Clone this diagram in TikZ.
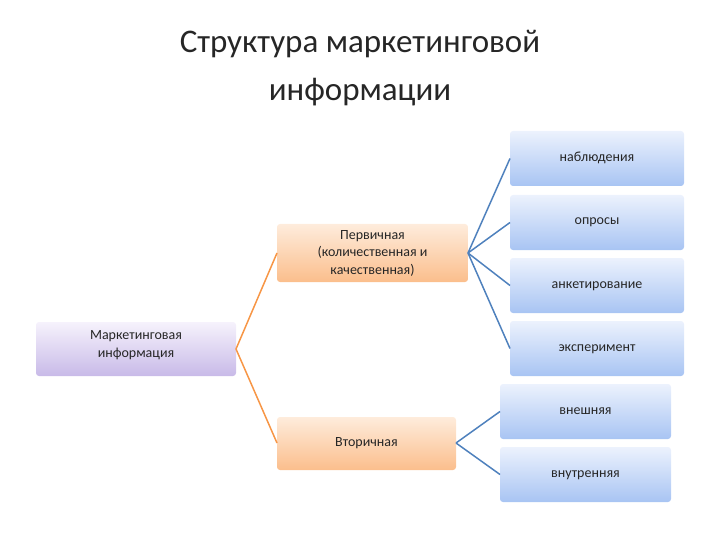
\documentclass[tikz,border=0pt]{standalone}
\usepackage{fontspec}
\setmainfont{Carlito}
\definecolor{lnB}{RGB}{79,129,189}
\definecolor{lnO}{RGB}{247,150,70}
\definecolor{bTop}{RGB}{236,242,253}
\definecolor{bBot}{RGB}{168,196,243}
\definecolor{oTop}{RGB}{254,236,220}
\definecolor{oBot}{RGB}{251,190,140}
\definecolor{pTop}{RGB}{246,242,252}
\definecolor{pBot}{RGB}{200,186,232}
\begin{document}
\begin{tikzpicture}[x=1pt,y=-1pt,
  box/.style={rounded corners=3pt,inner sep=0pt},
  purp/.style={box,top color=pTop,bottom color=pBot},
  oran/.style={box,top color=oTop,bottom color=oBot},
  blu/.style={box,top color=bTop,bottom color=bBot},
  oline/.style={draw=lnO,line width=1.5pt},
  bline/.style={draw=lnB,line width=1.5pt},
  txt/.style={font=\fontsize{14}{17.5}\selectfont,align=center,text=black!85}]
\useasboundingbox (0,0) rectangle (720,540);
\node[font=\fontsize{33}{48}\selectfont,align=center,text=black!85] (title) at (360,68) {Структура маркетинговой\\информации};
\path[purp] (36,322) rectangle (236,376);
\node[txt] (m) at (136,345) {Маркетинговая\\информация};
\coordinate (mR) at (236,349);
\path[oran] (277,224) rectangle (468,282);
\node[txt] (p) at (372.5,253) {Первичная\\(количественная и\\качественная)};
\coordinate (pL) at (277,253); \coordinate (pR) at (468,253);
\path[oran] (277,417) rectangle (456,470);
\node[txt] (v) at (366.5,443) {Вторичная};
\coordinate (vL) at (277,443); \coordinate (vR) at (456,443);
\foreach \n/\t/\yy/\ty in {a/наблюдения/131/158,b/опросы/195/222,c/анкетирование/258/286,d/эксперимент/321/349}{
  \path[blu] (510,\yy) rectangle (684,\yy+55);
  \node[txt] (\n) at (597,\ty) {\t};
  \coordinate (\n L) at (510,\yy+27.5);
}
\foreach \n/\t/\yy/\ty in {e/внешняя/384/411,f/внутренняя/447/475}{
  \path[blu] (500,\yy) rectangle (671,\yy+55);
  \node[txt] (\n) at (585.5,\ty) {\t};
  \coordinate (\n L) at (500,\yy+27.5);
}
\draw[oline] (pL) -- (mR) -- (vL);
\foreach \n in {a,b,c,d} \draw[bline] (pR) -- (\n L);
\foreach \n in {e,f} \draw[bline] (vR) -- (\n L);
\end{tikzpicture}
\end{document}
